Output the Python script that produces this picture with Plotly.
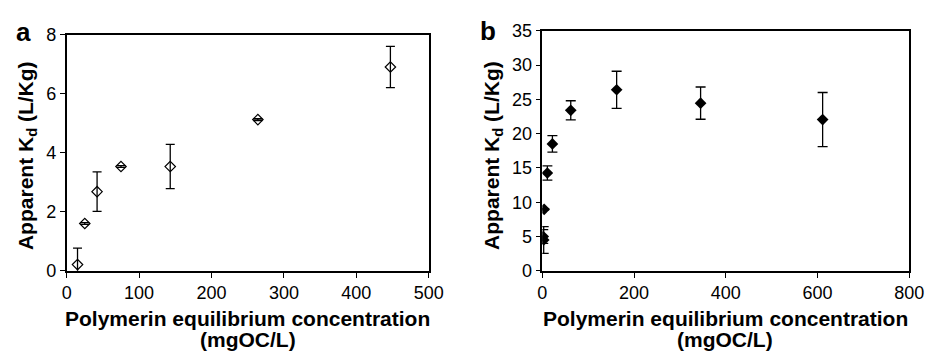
import plotly.graph_objects as go

# Panel a data
a_x = [15, 25, 42, 75, 143, 264, 447]
a_y = [0.21, 1.60, 2.68, 3.53, 3.53, 5.12, 6.90]
a_err = [0.56, 0.03, 0.67, 0.03, 0.75, 0.03, 0.70]

# Panel b data
b_x = [2, 3, 4, 11, 22, 62, 162, 345, 611]
b_y = [5.0, 4.5, 8.97, 14.26, 18.5, 23.4, 26.4, 24.45, 22.05]
b_err = [1.0, 1.95, 0.1, 1.05, 1.2, 1.4, 2.7, 2.35, 3.95]

a_ticks = [0, 100, 200, 300, 400, 500]
a_yticks = [0, 2, 4, 6, 8]
b_ticks = [0, 200, 400, 600, 800]
b_yticks = [0, 5, 10, 15, 20, 25, 30, 35]

W, H = 940, 363
font = "Liberation Sans, Arial, sans-serif"

fig = go.Figure()
fig.add_trace(go.Scatter(
    x=a_x, y=a_y, mode="markers", xaxis="x", yaxis="y",
    marker=dict(symbol="diamond-open", size=8, color="black", line=dict(width=1.2, color="black")),
    error_y=dict(type="data", array=a_err, visible=True, color="black", thickness=1.3, width=4.5),
    cliponaxis=True, showlegend=False))
fig.add_trace(go.Scatter(
    x=b_x, y=b_y, mode="markers", xaxis="x2", yaxis="y2",
    marker=dict(symbol="diamond", size=9, color="black"),
    error_y=dict(type="data", array=b_err, visible=True, color="black", thickness=1.3, width=5),
    cliponaxis=True, showlegend=False))

axis_common = dict(showline=True, linecolor="black", linewidth=1.5, mirror=True,
                   ticks="outside", ticklen=5, tickcolor="black", tickwidth=1.2,
                   showgrid=False, zeroline=False,
                   tickfont=dict(family=font, size=18, color="black"))

fig.update_layout(
    width=W, height=H, margin=dict(l=0, r=0, t=0, b=0),
    paper_bgcolor="white", plot_bgcolor="white",
    xaxis=dict(domain=[63/W, 433/W], range=[0, 500], tickvals=a_ticks, anchor="y", **axis_common),
    yaxis=dict(domain=[(H-276)/H, (H-26)/H], range=[0, 8], tickvals=a_yticks, anchor="x", **axis_common),
    xaxis2=dict(domain=[549/W, 924/W], range=[0, 800], tickvals=b_ticks, anchor="y2", **axis_common),
    yaxis2=dict(domain=[(H-276)/H, (H-22)/H], range=[0, 35], tickvals=b_yticks, anchor="x2", **axis_common),
)

title_font = dict(family=font, size=21, color="black")
ann = []
# x-axis titles
for cx in [248, 736]:
    ann.append(dict(x=cx / W, y=1 - 326 / H, xref="paper", yref="paper",
                    text="<b>Polymerin equilibrium concentration</b>", showarrow=False,
                    font=title_font, xanchor="center", yanchor="middle"))
    ann.append(dict(x=cx / W, y=1 - 349 / H, xref="paper", yref="paper",
                    text="<b>(mgOC/L)</b>", showarrow=False,
                    font=title_font, xanchor="center", yanchor="middle"))
# y-axis titles
for cx, cy in [(22, 154), (498, 154)]:
    ann.append(dict(x=cx / W, y=1 - cy / H, xref="paper", yref="paper",
                    text="<b>Apparent K<sub>d</sub> (L/Kg)</b>", showarrow=False, textangle=-90,
                    font=title_font, xanchor="center", yanchor="middle"))
# panel labels
ann.append(dict(x=19 / W, y=1 - 23 / H, xref="paper", yref="paper", text="<b>a</b>",
                showarrow=False, font=dict(family=font, size=26, color="black"),
                xanchor="center", yanchor="middle"))
ann.append(dict(x=494 / W, y=1 - 22 / H, xref="paper", yref="paper", text="<b>b</b>",
                showarrow=False, font=dict(family=font, size=26, color="black"),
                xanchor="center", yanchor="middle"))
fig.update_layout(annotations=ann)

fig.write_html("out.html")
